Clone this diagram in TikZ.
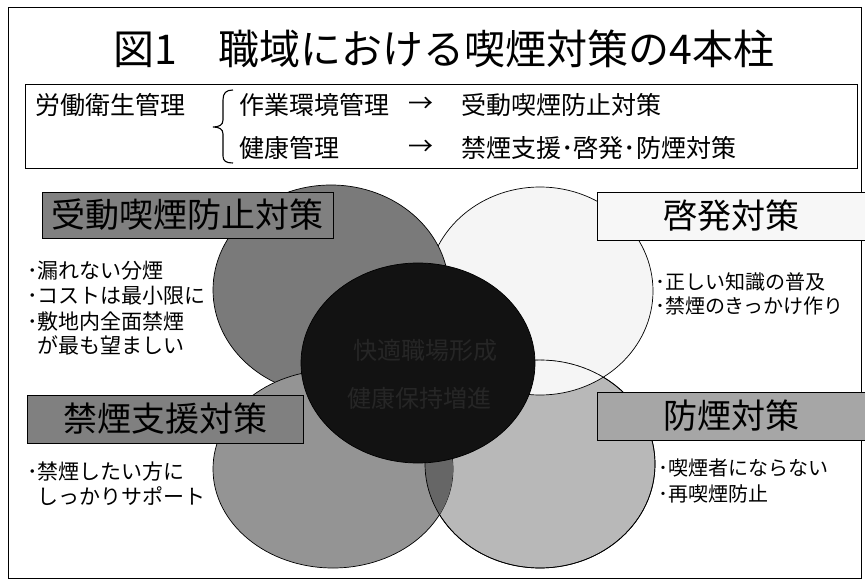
\documentclass[tikz,border=0pt]{standalone}
\usepackage{fontspec}
\newfontfamily\jp{Noto Sans CJK JP}
\begin{document}
\begin{tikzpicture}[x=1pt,y=-1pt,
  txt/.style={inner sep=0pt, anchor=west, font=\jp\fontsize{21}{21}\selectfont},
  rtxt/.style={inner sep=0pt, anchor=west, font=\jp\fontsize{20}{20}\selectfont},
  hdr/.style={inner sep=0pt, anchor=west, font=\jp\fontsize{25}{25}\selectfont},
  lab/.style={draw=black, line width=0.9pt, inner sep=0pt, font=\jp\fontsize{34}{34}\selectfont},
  circ/.style={draw=black, line width=0.7pt},
  ctxt/.style={inner sep=0pt, text=black!85, font=\jp\fontsize{24}{24}\selectfont}]
\useasboundingbox (0,0) rectangle (865,580);
\fill[white] (0,0) rectangle (865,580);
\draw[line width=1pt] (8,8) rectangle (861,578);

% title
\node[inner sep=0pt, font=\jp\fontsize{41}{41}\selectfont] (title) at (444,49) {図1　職域における喫煙対策の4本柱};

% header box
\node[draw, line width=1pt, minimum width=832pt, minimum height=84pt, inner sep=0pt] (hbox) at (441,127) {};
\node[hdr] (h0) at (35,105) {労働衛生管理};
\node[hdr] (h1) at (239,105) {作業環境管理};
\node[hdr, anchor=center] (a1) at (421,105) {→};
\node[hdr] (h2) at (461,105) {受動喫煙防止対策};
\node[hdr] (h3) at (239,148) {健康管理};
\node[hdr, anchor=center] (a2) at (421,148) {→};
\node[hdr] (h4) at (461,148) {禁煙支援･啓発･防煙対策};
\draw[line width=1.1pt] (233,90) .. controls (226,90) and (223,93) .. (223,100) -- (223,120)
  .. controls (223,125) and (219,127) .. (213,127)
  .. controls (219,127) and (223,129) .. (223,134) -- (223,156)
  .. controls (223,161) and (226,163) .. (233,163);

% circles
\draw[circ, fill=black!28] (540,464) ellipse [x radius=115pt, y radius=104pt];
\draw[circ, fill=black!4] (540,291) ellipse [x radius=113pt, y radius=104pt];
\begin{scope}
  \clip (540,291) ellipse [x radius=113pt, y radius=104pt];
  \draw[black!55, dashed, line width=0.5pt] (540,464) ellipse [x radius=115pt, y radius=104pt];
\end{scope}
\draw[circ, fill=black!52] (331,290) ellipse [x radius=118pt, y radius=105pt];
\draw[circ, fill=black!42] (333,469) ellipse [x radius=120pt, y radius=99pt];
\begin{scope}
  \clip (333,469) ellipse [x radius=120pt, y radius=99pt];
  \fill[black!60] (540,464) ellipse [x radius=115pt, y radius=104pt];
\end{scope}
\draw[circ] (540,464) ellipse [x radius=115pt, y radius=104pt];
\draw[circ, fill=black!93] (418,363) ellipse [x radius=117pt, y radius=100pt];
\node[ctxt] (c1) at (425,350) {快適職場形成};
\node[ctxt] (c2) at (419,398) {健康保持増進};

% labels
\node[lab, fill=black!50, minimum width=291pt, minimum height=46pt] (l1) at (187.5,215) {受動喫煙防止対策};
\node[lab, fill=black!3, minimum width=268pt, minimum height=48pt] (l2) at (731,216) {啓発対策};
\node[lab, fill=black!50, minimum width=276pt, minimum height=48pt] (l3) at (165,419) {禁煙支援対策};
\node[lab, fill=black!35, minimum width=268pt, minimum height=48pt] (l4) at (731,416) {防煙対策};

% bullet texts
\node[txt] (t1) at (27,271) {･漏れない分煙};
\node[txt] (t2) at (27,296) {･コストは最小限に};
\node[txt] (t3) at (27,321) {･敷地内全面禁煙};
\node[txt] (t4) at (37,345) {が最も望ましい};

\node[rtxt] (r1) at (655,282) {･正しい知識の普及};
\node[rtxt] (r2) at (655,306) {･禁煙のきっかけ作り};

\node[txt] (b1) at (27,472) {･禁煙したい方に};
\node[txt] (b2) at (37,496) {しっかりサポート};

\node[rtxt] (d1) at (658,468) {･喫煙者にならない};
\node[rtxt] (d2) at (658,494) {･再喫煙防止};
\end{tikzpicture}
\end{document}
